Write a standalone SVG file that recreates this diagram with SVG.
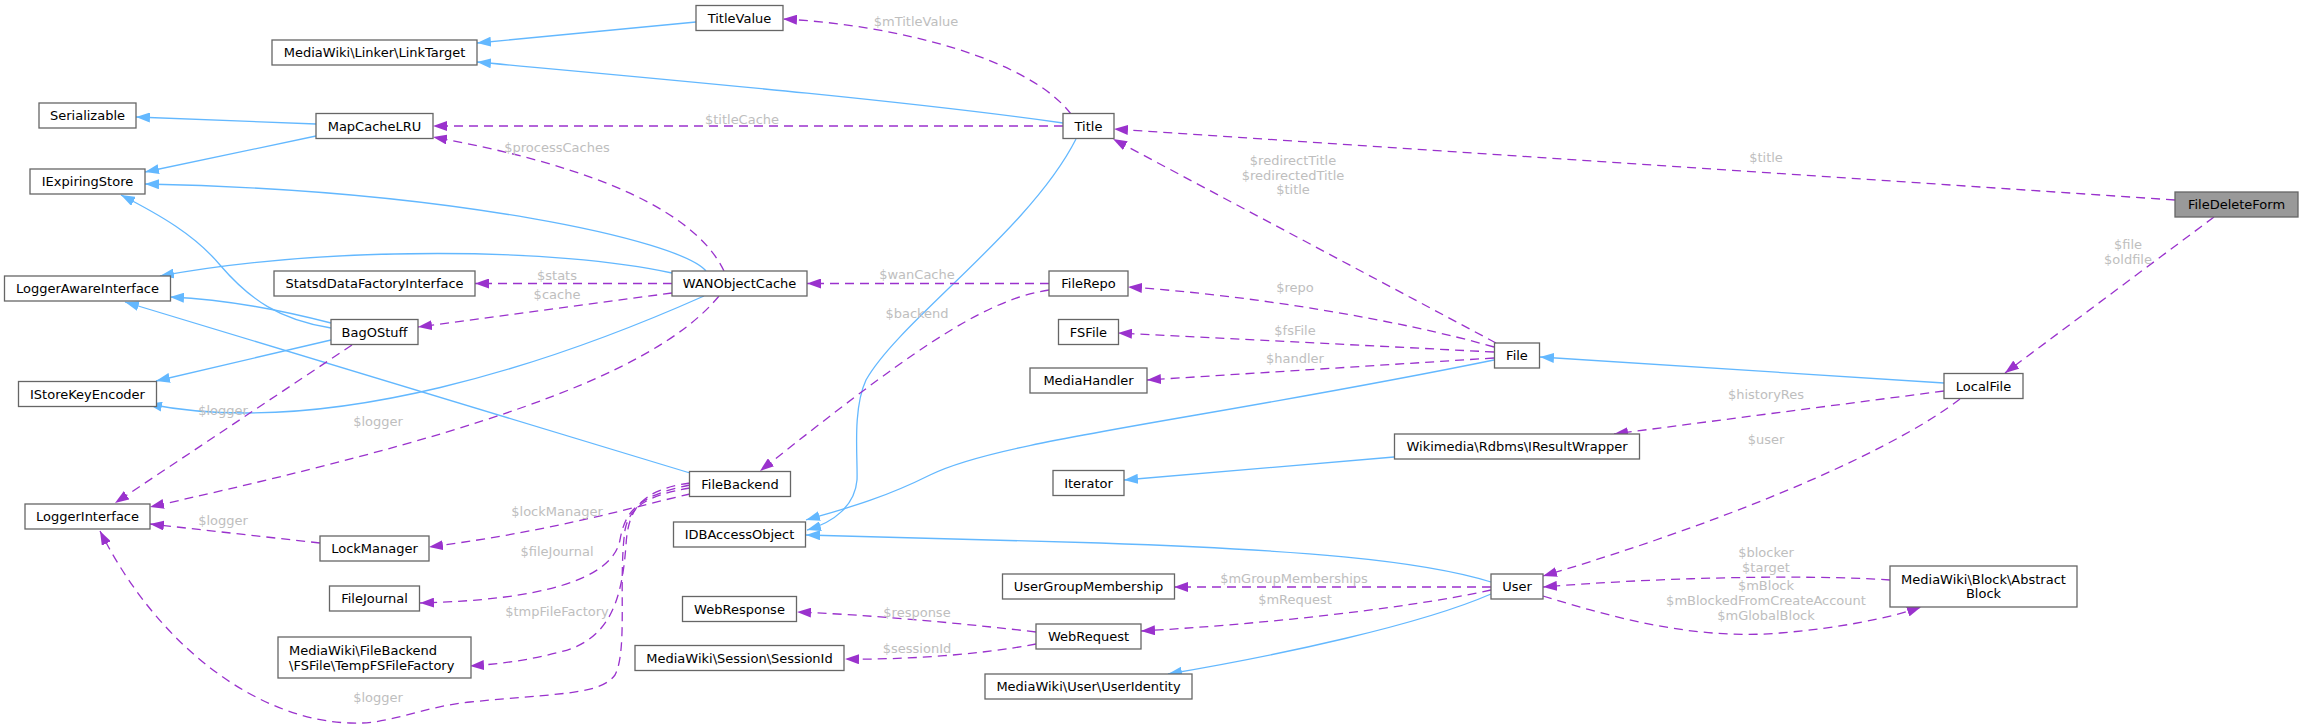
<svg xmlns="http://www.w3.org/2000/svg" width="2303" height="725" viewBox="0 0 2303 725">
<style>
.n rect{fill:#fff;stroke:#666;stroke-width:1.3}
.n.main rect{fill:#999}
.n text{font-family:"DejaVu Sans","Liberation Sans",sans-serif;font-size:13px;fill:#000;text-anchor:middle}
.n text.l{text-anchor:start}
.inh{fill:none;stroke:#63B8FF;stroke-width:1.3;marker-end:url(#ab)}
.use{fill:none;stroke:#9A32CD;stroke-width:1.3;stroke-dasharray:9,6;marker-end:url(#ap)}
.lbl{font-family:"DejaVu Sans","Liberation Sans",sans-serif;font-size:13px;fill:#bebebe;text-anchor:middle}
</style>
<defs>
<marker id="ab" markerUnits="userSpaceOnUse" markerWidth="14" markerHeight="10" refX="14" refY="5" orient="auto"><path d="M0,0 L14,5 L0,10 Z" fill="#63B8FF"/></marker>
<marker id="ap" markerUnits="userSpaceOnUse" markerWidth="14" markerHeight="10" refX="14" refY="5" orient="auto"><path d="M0,0 L14,5 L0,10 Z" fill="#9A32CD"/></marker>
</defs>
<rect width="2303" height="725" fill="#fff"/>
<g id="connectors">
<path class="inh" d="M696,22 L477,43"/>
<path class="inh" d="M1063,123 C900,100 650,78 477,62"/>
<path class="inh" d="M316,124 L136,117"/>
<path class="inh" d="M316,136 L145,172"/>
<path class="inh" d="M706,271 C680,240 450,190 145,184"/>
<path class="inh" d="M331,328 C280,320 250,300 220,265 C195,235 160,215 121,195"/>
<path class="inh" d="M672,273 C560,248 330,245 160,276"/>
<path class="inh" d="M331,323 C280,310 230,300 170,297"/>
<path class="inh" d="M690,473 L125,302"/>
<path class="inh" d="M331,340 L156,381"/>
<path class="inh" d="M704,296 C560,360 330,440 148,404"/>
<path class="inh" d="M1076,139 C1030,230 900,320 866,380 C852,410 858,460 857,480 C855,505 835,522 807,530"/>
<path class="inh" d="M1494,360 C1200,420 1000,440 930,475 C880,500 840,510 806,520"/>
<path class="inh" d="M1491,582 C1420,560 1300,550 1100,543 C950,538 870,536 806,535"/>
<path class="inh" d="M1944,383 L1540,357"/>
<path class="inh" d="M1394,457 L1124,480"/>
<path class="inh" d="M1491,594 C1420,625 1280,655 1168,674"/>
<path class="use" d="M1071,114 C1030,60 900,25 783,19"/>
<text class="lbl" x="916" y="26">$mTitleValue</text>
<path class="use" d="M1063,126 L433,126"/>
<text class="lbl" x="742" y="123.5">$titleCache</text>
<path class="use" d="M2175,200 L1114,129"/>
<text class="lbl" x="1766" y="161.5">$title</text>
<path class="use" d="M1496,343 L1113,139"/>
<text class="lbl" x="1293" y="165">$redirectTitle</text>
<text class="lbl" x="1293" y="179.5">$redirectedTitle</text>
<text class="lbl" x="1293" y="194">$title</text>
<path class="use" d="M724,271 C690,200 560,160 433,137"/>
<text class="lbl" x="557" y="151.5">$processCaches</text>
<path class="use" d="M672,283.5 L475,283.5"/>
<text class="lbl" x="557" y="279.5">$stats</text>
<path class="use" d="M672,293 L418,327"/>
<text class="lbl" x="557" y="299">$cache</text>
<path class="use" d="M1049,283.5 L807,283.5"/>
<text class="lbl" x="917" y="278.5">$wanCache</text>
<path class="use" d="M1049,290 C980,300 900,360 760,471"/>
<text class="lbl" x="917" y="317.5">$backend</text>
<path class="use" d="M352,345 L115,503"/>
<text class="lbl" x="223" y="414.5">$logger</text>
<path class="use" d="M719,296 C650,380 450,440 150,507"/>
<text class="lbl" x="378" y="426">$logger</text>
<path class="use" d="M320,543 L150,524"/>
<text class="lbl" x="223" y="524.5">$logger</text>
<path class="use" d="M690,488 C650,495 630,505 625,530 C618,580 628,650 615,675 C600,695 560,693 470,702 C420,707 390,725 350,723 C260,720 160,650 100,531"/>
<text class="lbl" x="378" y="701.5">$logger</text>
<path class="use" d="M690,494 C640,505 560,530 429,547"/>
<text class="lbl" x="557" y="516">$lockManager</text>
<path class="use" d="M690,485 C640,495 625,510 620,540 C612,580 540,600 420,603"/>
<text class="lbl" x="557" y="556">$fileJournal</text>
<path class="use" d="M690,483 C640,490 628,510 626,545 C622,600 610,640 560,652 C530,660 500,664 470,666"/>
<text class="lbl" x="557" y="616">$tmpFileFactory</text>
<path class="use" d="M1494,347 C1400,320 1250,295 1128,287"/>
<text class="lbl" x="1295" y="291.5">$repo</text>
<path class="use" d="M1494,352 L1118,333"/>
<text class="lbl" x="1295" y="334.5">$fsFile</text>
<path class="use" d="M1494,358 L1147,380"/>
<text class="lbl" x="1295" y="362.5">$handler</text>
<path class="use" d="M2214,217 L2005,373"/>
<text class="lbl" x="2128" y="248.5">$file</text>
<text class="lbl" x="2128" y="263.5">$oldfile</text>
<path class="use" d="M1944,391 L1614,434"/>
<text class="lbl" x="1766" y="398.5">$historyRes</text>
<path class="use" d="M1960,399 C1880,460 1700,530 1543,576"/>
<text class="lbl" x="1766" y="443.5">$user</text>
<path class="use" d="M1890,580 C1800,574 1650,578 1543,587"/>
<text class="lbl" x="1766" y="556.5">$blocker</text>
<text class="lbl" x="1766" y="572">$target</text>
<path class="use" d="M1543,596 C1620,620 1700,640 1780,633 C1840,628 1890,618 1921,607"/>
<text class="lbl" x="1766" y="589.5">$mBlock</text>
<text class="lbl" x="1766" y="604.5">$mBlockedFromCreateAccount</text>
<text class="lbl" x="1766" y="619.5">$mGlobalBlock</text>
<path class="use" d="M1491,587 L1174,587"/>
<text class="lbl" x="1294" y="583">$mGroupMemberships</text>
<path class="use" d="M1491,590 C1400,610 1250,625 1141,631"/>
<text class="lbl" x="1295" y="603.5">$mRequest</text>
<path class="use" d="M1036,632 C950,622 870,615 797,612"/>
<text class="lbl" x="917" y="617">$response</text>
<path class="use" d="M1036,644 C980,655 900,660 845,659"/>
<text class="lbl" x="917" y="653">$sessionId</text>
</g>
<g id="node-TitleValue" class="n"><rect x="696" y="5.5" width="87" height="25"/><text x="739.5" y="22.5">TitleValue</text></g>
<g id="node-LinkTarget" class="n"><rect x="272" y="40" width="205" height="25"/><text x="374.5" y="57">MediaWiki\Linker\LinkTarget</text></g>
<g id="node-Serializable" class="n"><rect x="39" y="103" width="97" height="25"/><text x="87.5" y="120">Serializable</text></g>
<g id="node-MapCacheLRU" class="n"><rect x="316" y="113.5" width="117" height="25"/><text x="374.5" y="130.5">MapCacheLRU</text></g>
<g id="node-Title" class="n"><rect x="1063" y="113.5" width="51" height="25"/><text x="1088.5" y="130.5">Title</text></g>
<g id="node-IExpiringStore" class="n"><rect x="30" y="169" width="115" height="25"/><text x="87.5" y="186">IExpiringStore</text></g>
<g id="node-FileDeleteForm" class="n main"><rect x="2175" y="192" width="123" height="25"/><text x="2236.5" y="209">FileDeleteForm</text></g>
<g id="node-StatsdDataFactoryInterface" class="n"><rect x="274" y="271" width="201" height="25"/><text x="374.5" y="288">StatsdDataFactoryInterface</text></g>
<g id="node-WANObjectCache" class="n"><rect x="672" y="271" width="135" height="25"/><text x="739.5" y="288">WANObjectCache</text></g>
<g id="node-FileRepo" class="n"><rect x="1049" y="271" width="79" height="25"/><text x="1088.5" y="288">FileRepo</text></g>
<g id="node-LoggerAwareInterface" class="n"><rect x="4.5" y="276" width="166" height="25"/><text x="87.5" y="293">LoggerAwareInterface</text></g>
<g id="node-BagOStuff" class="n"><rect x="331" y="319.5" width="87" height="25"/><text x="374.5" y="336.5">BagOStuff</text></g>
<g id="node-FSFile" class="n"><rect x="1058.5" y="319.5" width="60" height="25"/><text x="1088.5" y="336.5">FSFile</text></g>
<g id="node-File" class="n"><rect x="1494.5" y="343" width="45" height="25"/><text x="1517" y="360">File</text></g>
<g id="node-MediaHandler" class="n"><rect x="1030" y="368" width="117" height="25"/><text x="1088.5" y="385">MediaHandler</text></g>
<g id="node-LocalFile" class="n"><rect x="1944" y="373.5" width="79" height="25"/><text x="1983.5" y="390.5">LocalFile</text></g>
<g id="node-IStoreKeyEncoder" class="n"><rect x="18.5" y="381.5" width="138" height="25"/><text x="87.5" y="398.5">IStoreKeyEncoder</text></g>
<g id="node-IResultWrapper" class="n"><rect x="1394.5" y="434" width="245" height="25"/><text x="1517" y="451">Wikimedia\Rdbms\IResultWrapper</text></g>
<g id="node-Iterator" class="n"><rect x="1053" y="470.5" width="71" height="25"/><text x="1088.5" y="487.5">Iterator</text></g>
<g id="node-FileBackend" class="n"><rect x="689.5" y="471.5" width="101" height="25"/><text x="740" y="488.5">FileBackend</text></g>
<g id="node-LoggerInterface" class="n"><rect x="25" y="504" width="125" height="25"/><text x="87.5" y="521">LoggerInterface</text></g>
<g id="node-IDBAccessObject" class="n"><rect x="673.5" y="522" width="132" height="25"/><text x="739.5" y="539">IDBAccessObject</text></g>
<g id="node-LockManager" class="n"><rect x="320" y="536" width="109" height="25"/><text x="374.5" y="553">LockManager</text></g>
<g id="node-UserGroupMembership" class="n"><rect x="1002.5" y="574" width="172" height="25"/><text x="1088.5" y="591">UserGroupMembership</text></g>
<g id="node-User" class="n"><rect x="1491" y="574" width="52" height="25"/><text x="1517" y="591">User</text></g>
<g id="node-AbstractBlock" class="n"><rect x="1890" y="566" width="187" height="41"/><text x="1983.5" y="583.5">MediaWiki\Block\Abstract</text><text x="1983.5" y="598">Block</text></g>
<g id="node-FileJournal" class="n"><rect x="329.5" y="586" width="90" height="25"/><text x="374.5" y="603">FileJournal</text></g>
<g id="node-WebResponse" class="n"><rect x="682.5" y="596.5" width="114" height="25"/><text x="739.5" y="613.5">WebResponse</text></g>
<g id="node-WebRequest" class="n"><rect x="1036" y="624" width="105" height="25"/><text x="1088.5" y="641">WebRequest</text></g>
<g id="node-TempFSFileFactory" class="n"><rect x="278" y="637" width="193" height="41"/><text class="l" x="289" y="654.5">MediaWiki\FileBackend</text><text class="l" x="289" y="669.5">\FSFile\TempFSFileFactory</text></g>
<g id="node-SessionId" class="n"><rect x="635" y="645.5" width="209" height="25"/><text x="739.5" y="662.5">MediaWiki\Session\SessionId</text></g>
<g id="node-UserIdentity" class="n"><rect x="985" y="674" width="207" height="25"/><text x="1088.5" y="691">MediaWiki\User\UserIdentity</text></g>
</svg>
